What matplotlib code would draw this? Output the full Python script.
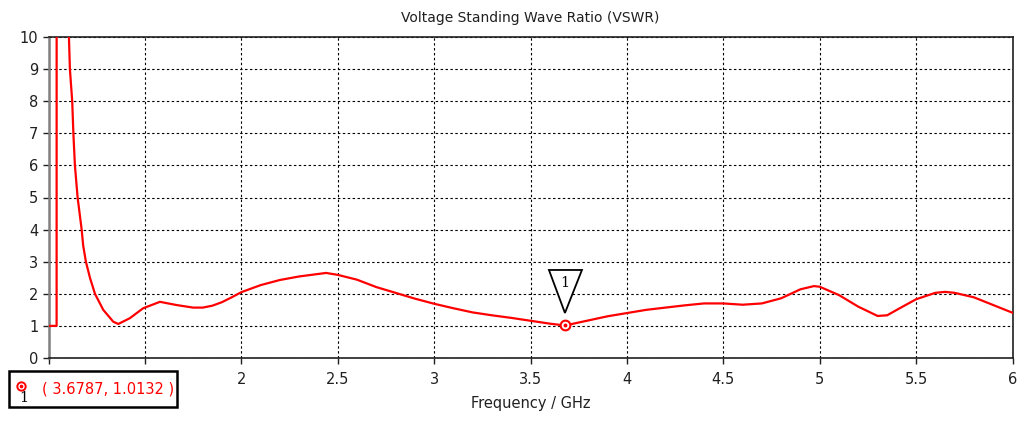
import matplotlib
matplotlib.use("Agg")
import matplotlib.pyplot as plt
import matplotlib.transforms as mtransforms
from matplotlib.patches import Polygon, Rectangle

# VSWR curve
freq = [1.0, 1.042, 1.043, 1.07, 1.106, 1.111, 1.123, 1.129, 1.137, 1.151,
        1.172, 1.18, 1.194, 1.215, 1.241, 1.284, 1.336, 1.362, 1.422, 1.491,
        1.578, 1.664, 1.75, 1.8, 1.85, 1.9, 1.95, 2.0, 2.1, 2.2,
        2.3, 2.44, 2.5, 2.6, 2.7, 2.8, 2.9, 3.0, 3.1, 3.2,
        3.3, 3.4, 3.5, 3.6, 3.6787, 3.8, 3.9, 4.0, 4.1, 4.2,
        4.3, 4.4, 4.5, 4.6, 4.7, 4.8, 4.9, 4.97, 5.0, 5.1,
        5.2, 5.3, 5.35, 5.4, 5.5, 5.6, 5.65, 5.7, 5.8, 5.9,
        6.0]
vswr = [1.0, 1.0, 40, 20, 10, 9, 8, 7, 6, 5,
        4, 3.5, 3.0, 2.5, 2.0, 1.5, 1.13, 1.06, 1.24, 1.55,
        1.75, 1.65, 1.57, 1.57, 1.63, 1.74, 1.89, 2.05, 2.27, 2.43,
        2.54, 2.65, 2.59, 2.44, 2.21, 2.03, 1.85, 1.69, 1.55, 1.42,
        1.33, 1.25, 1.16, 1.07, 1.0132, 1.17, 1.30, 1.40, 1.50, 1.57,
        1.64, 1.70, 1.70, 1.66, 1.70, 1.86, 2.14, 2.24, 2.22, 1.96,
        1.60, 1.31, 1.33, 1.50, 1.83, 2.03, 2.06, 2.03, 1.89, 1.65,
        1.41]

marker_f = 3.6787
marker_v = 1.0132
xticks = [1, 1.5, 2, 2.5, 3, 3.5, 4, 4.5, 5, 5.5, 6]
# labels for 1 and 1.5 sit under the marker readout box in the reference
xticklabels = ["", "", "2", "2.5", "3", "3.5", "4", "4.5", "5", "5.5", "6"]
yticks = list(range(0, 11))

W, H = 1026, 421
fig = plt.figure(figsize=(W / 100, H / 100), dpi=100)
ax = fig.add_axes([48.5 / W, 1 - 358 / H, (1012.5 - 48.5) / W, (358 - 37) / H])

ax.plot(freq, vswr, color="#ff0000", lw=1.6, zorder=3)
ax.set_xlim(1, 6)
ax.set_ylim(0, 10)
ax.set_xticks(xticks)
ax.set_xticklabels(xticklabels)
ax.set_yticks(yticks)
ax.tick_params(direction="out", length=4.3, width=1, labelsize=10.5, colors="#202020")
ax.tick_params(axis="x", pad=6)
ax.tick_params(axis="y", pad=3)
ax.grid(True, color="black", linestyle=(0, (2.2, 2.2)), linewidth=0.8)

for s in ["top", "right", "bottom"]:
    ax.spines[s].set_color("#202020")
    ax.spines[s].set_linewidth(1.2)
ax.spines["left"].set_color("#808080")
ax.spines["left"].set_linewidth(1.8)

ax.set_title("Voltage Standing Wave Ratio (VSWR)", fontsize=10, color="#202020", pad=11)
ax.set_xlabel("Frequency / GHz", fontsize=10.5, color="#202020", labelpad=6)

# marker on the curve
ax.plot([marker_f], [marker_v], "o", ms=7, mfc="white", mec="#ff0000", mew=1.5, zorder=4)
ax.plot([marker_f], [marker_v], "o", ms=1.8, color="#ff0000", zorder=5)

# triangle label above the marker (pixel offsets)
off = fig.dpi_scale_trans + mtransforms.ScaledTranslation(marker_f, marker_v, ax.transData)
tri = Polygon([(-0.16, 0.555), (0.17, 0.555), (0.0, 0.125)], closed=True,
              facecolor="white", edgecolor="black", lw=1.3, transform=off, zorder=6)
ax.add_patch(tri)
ax.text(0.0, 0.42, "1", transform=off, ha="center", va="center",
        fontsize=10.5, family="DejaVu Serif", zorder=7)

# marker readout box
box = Rectangle((9 / W, 1 - 407 / H), 168 / W, 36 / H, transform=fig.transFigure,
                facecolor="white", edgecolor="black", lw=1.8, zorder=10)
fig.add_artist(box)
fig.add_artist(plt.Line2D([21 / W], [1 - 386 / H], marker="o", ms=6, mfc="white",
                          mec="#ff0000", mew=1.4, transform=fig.transFigure, zorder=11))
fig.add_artist(plt.Line2D([21 / W], [1 - 386 / H], marker="o", ms=1.6, color="#ff0000",
                          transform=fig.transFigure, zorder=12))
fig.text(24 / W, 1 - 398 / H, "1", fontsize=10.5, color="black", ha="center", va="center",
         family="DejaVu Serif", zorder=12)
fig.text(42 / W, 1 - 389 / H, "( 3.6787, 1.0132 )", fontsize=10.5, color="#ff0000",
         ha="left", va="center", zorder=12)

fig.savefig("out.png", dpi=100)
